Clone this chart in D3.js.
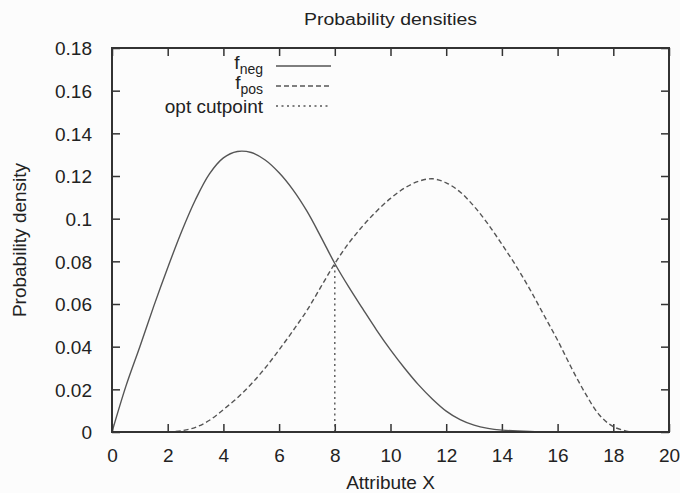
<!DOCTYPE html>
<html>
<head>
<meta charset="utf-8">
<script src="https://cdn.jsdelivr.net/npm/d3@7"></script>
<style>
  html, body { margin: 0; padding: 0; background: #fcfcfc; }
  svg { display: block; }
  text { font-family: "Liberation Sans", Arial, Helvetica, sans-serif; fill: #222; }
</style>
</head>
<body>
<div id="chart"></div>
<script>
// ---------- data ----------
const negX = [0,0.5,1,1.5,2,2.5,3,3.5,4,4.5,5,5.5,6,6.5,7,7.5,8,8.5,9,9.5,10,10.5,11,11.5,12,12.5,13,13.5,14,15,16];
const negY = [0,0.0215,0.040,0.059,0.077,0.094,0.109,0.121,0.1285,0.1315,0.131,0.1275,0.1215,0.1135,0.1035,0.0915,0.079,0.068,0.0578,0.0478,0.0385,0.030,0.0222,0.0155,0.0098,0.0058,0.0032,0.0017,0.0009,0.0002,0];

const posX = [2,2.5,3,3.5,4,4.5,5,5.5,6,6.5,7,7.5,8,8.5,9,9.5,10,10.5,11,11.5,12,12.5,13,13.5,14,14.5,15,15.5,16,16.5,17,17.5,18,18.6];
const posY = [0,0.0006,0.0022,0.0055,0.0105,0.016,0.0225,0.030,0.0385,0.0475,0.057,0.068,0.079,0.0885,0.0965,0.1035,0.1095,0.1143,0.1175,0.1187,0.1168,0.1125,0.1058,0.0975,0.088,0.078,0.067,0.055,0.043,0.030,0.018,0.008,0.0025,0];

const cutX = 8;
const cutY = 0.079;

const xTicks = [0,2,4,6,8,10,12,14,16,18,20];
const xTickLabels = ["0","2","4","6","8","10","12","14","16","18","20"];
const yTicks = [0,0.02,0.04,0.06,0.08,0.10,0.12,0.14,0.16,0.18];
const yTickLabels = ["0","0.02","0.04","0.06","0.08","0.1","0.12","0.14","0.16","0.18"];

const title = "Probability densities";
const xLabel = "Attribute X";
const yLabel = "Probability density";

// ---------- layout ----------
const W = 680, H = 493;
const L = 112, R = 669, T = 48, B = 432;

const svg = d3.select("#chart").append("svg")
  .attr("width", W).attr("height", H);

svg.append("rect").attr("width", W).attr("height", H).attr("fill", "#fcfcfc");

svg.append("clipPath").attr("id", "plot-clip")
  .append("rect").attr("x", L).attr("y", T).attr("width", R - L).attr("height", B - T);

const x = d3.scaleLinear().domain([0, 20]).range([L, R]);
const y = d3.scaleLinear().domain([0, 0.18]).range([B, T]);

const frameColor = "#333";
const curveColor = "#555";

// ticks (inward, on all four sides) via d3 axes
const tickLen = 8;
const axB = d3.axisBottom(x).tickValues(xTicks).tickSize(-tickLen).tickFormat((d,i) => xTickLabels[i]).tickPadding(17);
const axT = d3.axisTop(x).tickValues(xTicks).tickSize(-tickLen).tickFormat("");
const axL = d3.axisLeft(y).tickValues(yTicks).tickSize(-tickLen).tickFormat((d,i) => yTickLabels[i]).tickPadding(20);
const axR = d3.axisRight(y).tickValues(yTicks).tickSize(-tickLen).tickFormat("");

function styleAxis(g) {
  g.select(".domain").remove();
  g.selectAll(".tick line").attr("stroke", frameColor).attr("stroke-width", 1.5);
  g.selectAll(".tick text").attr("font-size", 19).attr("fill", "#222")
    .attr("font-family", "Liberation Sans, Arial, sans-serif");
}

const gB = svg.append("g").attr("transform", `translate(0,${B})`).call(axB).call(styleAxis);
gB.selectAll(".tick text").attr("dy", "0.71em");
svg.append("g").attr("transform", `translate(0,${T})`).call(axT).call(styleAxis);
const gL = svg.append("g").attr("transform", `translate(${L},0)`).call(axL).call(styleAxis);
gL.selectAll(".tick text").attr("dy", "0.36em");
svg.append("g").attr("transform", `translate(${R},0)`).call(axR).call(styleAxis);

// curves
const line = d3.line().x(d => x(d[0])).y(d => y(d[1])).curve(d3.curveCatmullRom.alpha(0.5));
const negData = negX.map((v,i) => [v, negY[i]]);
const posData = posX.map((v,i) => [v, posY[i]]);

const plot = svg.append("g").attr("clip-path", "url(#plot-clip)");
plot.append("path").datum(negData).attr("d", line)
  .attr("fill", "none").attr("stroke", curveColor).attr("stroke-width", 1.4);
plot.append("path").datum(posData).attr("d", line)
  .attr("fill", "none").attr("stroke", curveColor).attr("stroke-width", 1.4)
  .attr("stroke-dasharray", "5,3");
plot.append("line")
  .attr("x1", x(cutX)).attr("x2", x(cutX))
  .attr("y1", y(0)).attr("y2", y(cutY))
  .attr("stroke", curveColor).attr("stroke-width", 1.4)
  .attr("stroke-dasharray", "2,3.5");

// frame
svg.append("rect")
  .attr("x", L).attr("y", T).attr("width", R - L).attr("height", B - T)
  .attr("fill", "none").attr("stroke", frameColor).attr("stroke-width", 2);

// title (slightly wide face in the reference)
svg.append("text")
  .attr("transform", `translate(${(L + R) / 2},25) scale(1.18,1)`)
  .attr("text-anchor", "middle").attr("font-size", 16.5)
  .text(title);

// axis labels
svg.append("text")
  .attr("x", (L + R) / 2).attr("y", 489)
  .attr("text-anchor", "middle").attr("font-size", 19)
  .text(xLabel);
svg.append("text")
  .attr("transform", `translate(26,${(T + B) / 2}) rotate(-90)`)
  .attr("text-anchor", "middle").attr("font-size", 19)
  .text(yLabel);

// legend
const legend = [
  { main: "f", sub: "neg", dash: null },
  { main: "f", sub: "pos", dash: "5,3" },
  { main: "opt cutpoint", sub: null, dash: "2,3.5" }
];
const legTextX = 263, legX1 = 276, legX2 = 331;
const legY0 = 66, legDY = 20;
legend.forEach((e, i) => {
  const ly = legY0 + i * legDY;
  const t = svg.append("text").attr("x", legTextX).attr("text-anchor", "end").attr("font-size", 19);
  if (e.sub) {
    t.attr("y", ly + 3);
    t.append("tspan").text(e.main);
    t.append("tspan").attr("dy", 5).attr("font-size", 14).text(e.sub);
  } else {
    t.attr("y", ly + 7).text(e.main);
  }
  svg.append("line")
    .attr("x1", legX1).attr("x2", legX2).attr("y1", ly).attr("y2", ly)
    .attr("stroke", curveColor).attr("stroke-width", 1.4)
    .attr("stroke-dasharray", e.dash);
});
</script>
</body>
</html>
